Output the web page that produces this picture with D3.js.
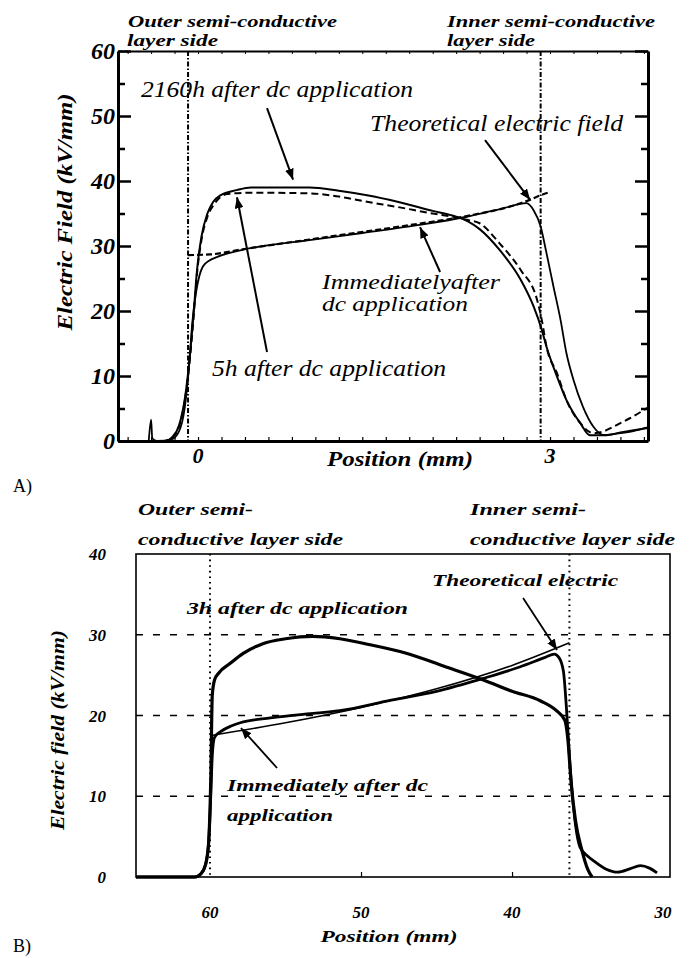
<!DOCTYPE html>
<html><head><meta charset="utf-8">
<script src="https://cdn.jsdelivr.net/npm/d3@7"></script>
<style>body{margin:0;background:#fff}svg{display:block}</style>
</head><body>
<svg id="c" width="693" height="958"></svg>
<script>
// ================= Panel A data =================
const aYMajor = [0, 10, 20, 30, 40, 50, 60];
const aYMinor = [5, 15, 25, 35, 45, 55];
const aXLabels = [0, 3];
const aXMinor = [-0.6, -0.4, -0.2, 0, 0.2, 0.4, 0.6, 0.8, 1.0, 1.2, 1.4, 1.6, 1.8, 2.0, 2.2, 2.4, 2.6, 2.8, 3.0, 3.2, 3.4, 3.6, 3.8];
const aBoundaries = [-0.085, 2.92];

const aPos2160 = [-0.40, -0.28, -0.22, -0.16, -0.11, -0.07, -0.04, -0.01, 0.03, 0.08, 0.13, 0.19, 0.33, 0.45, 0.95, 1.2, 1.44, 1.7, 2.0, 2.2, 2.3, 2.4, 2.57, 2.75, 2.86, 2.93, 2.97, 3.06, 3.14, 3.26, 3.34, 3.48, 3.6, 3.7, 3.83];
const aVal2160 = [0, 0, 0.6, 2.5, 6.8, 13, 19, 26, 31.5, 35, 36.8, 37.8, 38.6, 39, 39, 38.5, 37.8, 36.8, 35.4, 34.5, 33.8, 32.6, 29.4, 24.8, 20.7, 17.1, 14.5, 9.9, 6.3, 2.7, 0.9, 0.9, 1.3, 1.6, 2.0];

const aPos5h = [-0.40, -0.28, -0.22, -0.16, -0.11, -0.07, -0.04, -0.01, 0.03, 0.08, 0.14, 0.25, 0.45, 0.95, 1.2, 1.44, 1.7, 2.0, 2.2, 2.3, 2.4, 2.57, 2.75, 2.89, 2.93, 2.97, 3.06, 3.14, 3.26, 3.37, 3.46, 3.54, 3.68, 3.83];
const aVal5h = [0, 0, 0.5, 2.3, 6.5, 12.5, 18.5, 25.5, 31, 34.5, 36.5, 38, 38.2, 38.1, 37.6, 36.8, 36, 35, 34.4, 34.0, 33.5, 30.4, 26.3, 21.7, 18.6, 14.5, 10.4, 6.3, 2.7, 1.2, 1.5, 2.2, 3.5, 5.1];

const aPosImm = [-0.42, -0.40, -0.39, -0.35, -0.22, -0.15, -0.10, -0.07, -0.05, -0.02, 0.01, 0.04, 0.10, 0.16, 0.38, 0.95, 1.4, 1.87, 2.29, 2.6, 2.8, 2.86, 2.92, 2.97, 3.03, 3.09, 3.14, 3.20, 3.28, 3.37, 3.46, 3.55, 3.7, 3.83];
const aValImm = [0, 3.3, 0.4, 0, 0.3, 2, 7, 13, 18, 22.5, 25.3, 26.8, 27.8, 28.3, 29.4, 30.9, 32.0, 33.2, 34.5, 35.8, 36.6, 35.5, 33, 28.9, 23.7, 18.6, 13.5, 9.4, 5.3, 2.2, 0.9, 1.1, 1.5, 2.1];

const aPosTheo = [-0.085, 0.10, 0.38, 0.95, 1.87, 2.29, 2.80, 2.92, 3.0];
const aValTheo = [28.6, 28.7, 29.5, 31.0, 33.4, 34.6, 36.9, 37.8, 38.3];

// ================= Panel B data =================
const bYLabels = [0, 10, 20, 30, 40];
const bGrid = [10, 20, 30];
const bXLabels = [60, 50, 40, 30];
const bXTicks = [50, 40];
const bBoundaries = [60, 36.2];

const bPos3h = [64.9, 61.0, 60.6, 60.3, 60.1, 59.95, 59.85, 59.7, 59.4, 58.7, 57.8, 56.5, 55, 53.2, 51.4, 49.5, 47, 44.5, 41.9, 40, 38.1, 37, 36.5, 36.3, 36.1, 35.8, 35.4, 35.0, 34.7];
const bVal3h = [0, 0, 0.4, 1.5, 4, 12, 22.5, 24.4, 25.3, 26.4, 27.7, 28.9, 29.5, 29.8, 29.5, 28.8, 27.7, 26.1, 24.4, 23.0, 21.8, 20.5, 19.4, 17, 12, 7, 3.5, 1, 0];

const bPosImm = [64.9, 61.0, 60.6, 60.3, 60.1, 59.95, 59.85, 59.7, 59.3, 58.6, 58, 56, 53, 51.4, 48, 45, 41.9, 39.5, 37.8, 37.2, 36.9, 36.6, 36.4, 36.2, 36.0, 35.8, 35.5, 35.0, 34.6, 33.8, 33.0, 32.2, 31.5, 30.9, 30.4];
const bValImm = [0, 0, 0.4, 1.5, 4, 10, 15, 17.3, 18.0, 18.7, 19.1, 19.7, 20.3, 20.6, 21.9, 23.0, 24.6, 26.0, 27.2, 27.6, 27.2, 25.5, 21, 15, 10, 6.5, 3.7, 2.6, 2.0, 1.0, 0.6, 1.0, 1.4, 1.1, 0.5];

const bPosTheo = [60, 55, 50, 45, 40, 36.2];
const bValTheo = [17.5, 19.1, 21.0, 23.3, 26.2, 29.0];

// ================= drawing =================
const svg = d3.select("#c");
const defs = svg.append("defs");
defs.append("marker").attr("id", "ah").attr("viewBox", "0 0 10 8")
  .attr("refX", 10).attr("refY", 4).attr("markerWidth", 11).attr("markerHeight", 9)
  .attr("markerUnits", "userSpaceOnUse").attr("orient", "auto")
  .append("path").attr("d", "M0,0 L10,4 L0,8 Z").attr("fill", "#000");

const SERIF = "Liberation Serif, Times New Roman, DejaVu Serif, serif";
function txt(x, y, s, o = {}) {
  const t = svg.append("text").attr("x", x).attr("y", y).text(s)
    .attr("font-family", SERIF)
    .attr("font-size", o.size || 16)
    .attr("font-style", o.italic === false ? "normal" : "italic")
    .attr("font-weight", o.bold ? "bold" : "normal")
    .attr("fill", "#000")
    .attr("text-anchor", o.anchor || "start");
  if (o.len) t.attr("textLength", o.len).attr("lengthAdjust", "spacingAndGlyphs");
  if (o.rot) t.attr("transform", `rotate(${o.rot},${x},${y})`);
  return t;
}
const zip = (xs, ys) => xs.map((x, i) => [x, ys[i]]);

// ---------- Panel A ----------
const ax = d3.scaleLinear().domain([-0.682, 3.835]).range([118, 648]);
const ay = d3.scaleLinear().domain([0, 60]).range([441, 51]);
const gA = svg.append("g");

aBoundaries.forEach(b => {
  gA.append("line").attr("x1", ax(b)).attr("x2", ax(b)).attr("y1", ay(60)).attr("y2", ay(0))
    .attr("stroke", "#000").attr("stroke-width", 2).attr("stroke-dasharray", "5,2,1.5,2");
});

const lineA = d3.line().x(d => ax(d[0])).y(d => ay(d[1])).curve(d3.curveMonotoneX);
gA.append("path").attr("d", lineA(zip(aPosTheo, aValTheo))).attr("fill", "none")
  .attr("stroke", "#000").attr("stroke-width", 2.2).attr("stroke-dasharray", "6,3");
gA.append("path").attr("d", lineA(zip(aPosImm, aValImm))).attr("fill", "none")
  .attr("stroke", "#000").attr("stroke-width", 1.8);
gA.append("path").attr("d", lineA(zip(aPos5h, aVal5h))).attr("fill", "none")
  .attr("stroke", "#000").attr("stroke-width", 2).attr("stroke-dasharray", "7,4");
gA.append("path").attr("d", lineA(zip(aPos2160, aVal2160))).attr("fill", "none")
  .attr("stroke", "#000").attr("stroke-width", 2);

const aLeftMaj = d3.axisLeft(ay).tickValues(aYMajor).tickSizeInner(-13).tickSizeOuter(0).tickPadding(3).tickFormat(d3.format("d"));
const gL = gA.append("g").attr("transform", `translate(${ax.range()[0]},0)`).call(aLeftMaj);
gL.select(".domain").attr("stroke-width", 3);
gL.selectAll(".tick line").attr("stroke-width", 2.5);
gL.selectAll("text").attr("font-family", SERIF).attr("font-style", "italic").attr("font-size", 24).attr("font-weight", "bold");
gA.append("g").attr("transform", `translate(${ax.range()[0]},0)`)
  .call(d3.axisLeft(ay).tickValues(aYMinor).tickSizeInner(-7).tickSizeOuter(0).tickFormat(""))
  .call(g => { g.select(".domain").remove(); g.selectAll("line").attr("stroke-width", 2.5); });
const gR = gA.append("g").attr("transform", `translate(${ax.range()[1]},0)`)
  .call(d3.axisRight(ay).tickValues(aYMajor).tickSizeInner(-13).tickSizeOuter(0).tickFormat(""));
gR.select(".domain").attr("stroke-width", 3);
gR.selectAll("line").attr("stroke-width", 2.5);
gA.append("g").attr("transform", `translate(${ax.range()[1]},0)`)
  .call(d3.axisRight(ay).tickValues(aYMinor).tickSizeInner(-7).tickSizeOuter(0).tickFormat(""))
  .call(g => { g.select(".domain").remove(); g.selectAll("line").attr("stroke-width", 2.5); });
const gB = gA.append("g").attr("transform", `translate(0,${ay(0)})`)
  .call(d3.axisBottom(ax).tickValues(aXMinor).tickSizeInner(-4).tickSizeOuter(0).tickFormat(""));
gB.select(".domain").attr("stroke-width", 3);
gB.selectAll("line").attr("stroke-width", 1.2);
const gT = gA.append("g").attr("transform", `translate(0,${ay(60)})`)
  .call(d3.axisTop(ax).tickValues(aXMinor).tickSizeInner(-3).tickSizeOuter(0).tickFormat(""));
gT.select(".domain").attr("stroke-width", 2.2);
gT.selectAll("line").attr("stroke-width", 1);
aXLabels.forEach(v => txt(ax(v), 463, String(v), { size: 22, anchor: "middle", bold: true }));

txt(128, 27, "Outer semi-conductive", { size: 17, bold: true, len: 209 });
txt(127, 46, "layer side", { size: 17, bold: true, len: 91 });
txt(447, 27, "Inner semi-conductive", { size: 17, bold: true, len: 208 });
txt(447, 46, "layer side", { size: 17, bold: true, len: 88 });
txt(141, 97, "2160h after dc application", { size: 23, len: 272 });
txt(370, 131, "Theoretical electric field", { size: 23, len: 253 });
txt(322, 289, "Immediatelyafter", { size: 21, len: 178 });
txt(322, 311, "dc application", { size: 21, len: 146 });
txt(212, 376, "5h after dc application", { size: 23, len: 234 });
txt(72, 212, "Electric Field (kV/mm)", { size: 21, bold: true, anchor: "middle", rot: -90, len: 237 });
txt(400, 466, "Position (mm)", { size: 21, bold: true, anchor: "middle", len: 146 });
txt(13, 492, "A)", { size: 18, italic: false });

const aArrows = [[0.588, 51.2, 0.81, 40.2], [2.446, 46.3, 2.83, 37.1], [2.063, 26.0, 1.892, 32.9], [0.588, 13.7, 0.332, 37.5]];
aArrows.forEach(a => gA.append("line").attr("x1", ax(a[0])).attr("y1", ay(a[1])).attr("x2", ax(a[2])).attr("y2", ay(a[3]))
  .attr("stroke", "#000").attr("stroke-width", 2).attr("marker-end", "url(#ah)"));

// ---------- Panel B ----------
const bx = d3.scaleLinear().domain([64.9, 29.54]).range([136, 670]);
const by = d3.scaleLinear().domain([0, 40]).range([877, 554]);
const gBB = svg.append("g");

bGrid.forEach(v => gBB.append("line").attr("x1", bx.range()[0]).attr("x2", bx.range()[1]).attr("y1", by(v)).attr("y2", by(v))
  .attr("stroke", "#000").attr("stroke-width", 1.6).attr("stroke-dasharray", "7,10"));
bBoundaries.forEach(b => gBB.append("line").attr("x1", bx(b)).attr("x2", bx(b)).attr("y1", by(40)).attr("y2", by(0))
  .attr("stroke", "#000").attr("stroke-width", 2).attr("stroke-dasharray", "1.6,4"));

gBB.append("rect").attr("x", bx.range()[0]).attr("y", by(40)).attr("width", bx.range()[1] - bx.range()[0]).attr("height", by(0) - by(40))
  .attr("fill", "none").attr("stroke", "#000").attr("stroke-width", 1.6);
gBB.append("g").attr("transform", `translate(0,${by(0)})`)
  .call(d3.axisBottom(bx).tickValues(bXTicks).tickSizeInner(-5).tickSizeOuter(0).tickFormat(""))
  .call(g => { g.select(".domain").remove(); g.selectAll("line").attr("stroke-width", 1.2); });

const lineB = d3.line().x(d => bx(d[0])).y(d => by(d[1])).curve(d3.curveMonotoneX);
gBB.append("path").attr("d", lineB(zip(bPosTheo, bValTheo))).attr("fill", "none").attr("stroke", "#000").attr("stroke-width", 1.6);
gBB.append("path").attr("d", lineB(zip(bPosImm, bValImm))).attr("fill", "none").attr("stroke", "#000").attr("stroke-width", 2.8);
gBB.append("path").attr("d", lineB(zip(bPos3h, bVal3h))).attr("fill", "none").attr("stroke", "#000").attr("stroke-width", 3.2);

bYLabels.forEach(v => txt(106, by(v) + 6, String(v), { size: 17, bold: true, anchor: "end" }));
bXLabels.forEach(v => txt(bx(v), 918, String(v), { size: 17, bold: true, anchor: "middle" }));

txt(138, 515, "Outer semi-", { size: 17, bold: true, len: 115 });
txt(138, 545, "conductive layer side", { size: 17, bold: true, len: 205 });
txt(470, 515, "Inner semi-", { size: 17, bold: true, len: 116 });
txt(470, 545, "conductive layer side", { size: 17, bold: true, len: 205 });
txt(187, 614, "3h after dc application", { size: 17, bold: true, len: 221 });
txt(432, 586, "Theoretical electric", { size: 17, bold: true, len: 186 });
txt(227, 791, "Immediately after dc", { size: 17, bold: true, len: 201 });
txt(227, 821, "application", { size: 17, bold: true, len: 106 });
txt(64, 730, "Electric field (kV/mm)", { size: 18, bold: true, anchor: "middle", rot: -90, len: 200 });
txt(389, 942, "Position (mm)", { size: 17, bold: true, anchor: "middle", len: 137 });
txt(13, 952, "B)", { size: 18, italic: false });

const bArrows = [[39.27, 34.55, 37.02, 28.1], [55.56, 13.5, 57.95, 18.45]];
bArrows.forEach(a => gBB.append("line").attr("x1", bx(a[0])).attr("y1", by(a[1])).attr("x2", bx(a[2])).attr("y2", by(a[3]))
  .attr("stroke", "#000").attr("stroke-width", 1.8).attr("marker-end", "url(#ah)"));
</script>
</body></html>
